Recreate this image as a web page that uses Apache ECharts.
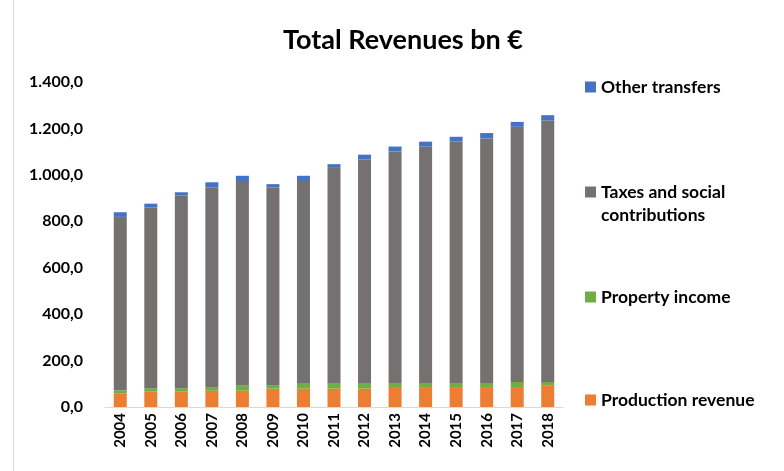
<!DOCTYPE html>
<html>
<head>
<meta charset="utf-8">
<script src="https://cdn.jsdelivr.net/npm/echarts@6/dist/echarts.min.js"></script>
<style>
  html, body { margin: 0; padding: 0; background: #fff; }
  #main { width: 784px; height: 471px; }
</style>
</head>
<body>
<div id="main"></div>
<script>
var years = ['2004', '2005', '2006', '2007', '2008', '2009', '2010', '2011', '2012', '2013', '2014', '2015', '2016', '2017', '2018'];
var production = [59, 66, 66, 70, 70, 79, 79, 79, 79, 86, 86, 86, 86, 86, 94];
var property = [13, 15, 15, 16, 24, 15, 21, 21, 21, 14, 14, 14, 14, 22, 14];
var taxes = [747, 780, 830, 861, 879, 853, 873, 930, 966, 1000, 1022, 1043, 1056, 1099, 1126];
var transfers = [20, 15, 14, 21, 23, 13, 23, 16, 21, 22, 21, 21, 24, 21, 23];
var yTicks = [0, 200, 400, 600, 800, 1000, 1200, 1400];

var font = 'Lato, "Open Sans", sans-serif';
var legendFont = 17.5;

// 1.400,0 style
function deNum(v) {
    var s = Math.round(v).toString().replace(/\B(?=(\d{3})+(?!\d))/g, '.');
    return s + ',0';
}

function legendBox(name, top, label) {
    return {
        data: [name],
        left: 585,
        top: top,
        padding: 0,
        orient: 'vertical',
        icon: 'rect',
        itemWidth: 11,
        itemHeight: 11,
        selectedMode: false,
        formatter: label ? function () { return label; } : '{name}',
        textStyle: {
            fontFamily: font,
            fontWeight: 'bold',
            fontSize: legendFont,
            color: '#000',
            lineHeight: 22
        }
    };
}

var option = {
    animation: false,
    backgroundColor: '#fff',
    title: {
        text: 'Total Revenues bn €',
        left: 398,
        textAlign: 'center',
        top: 22,
        textStyle: {
            fontFamily: font,
            fontWeight: 'bold',
            fontSize: 27,
            color: '#000'
        }
    },
    graphic: [{
        type: 'line',
        shape: { x1: 13.5, y1: 0, x2: 13.5, y2: 471 },
        style: { stroke: '#d9d9d9', lineWidth: 1 }
    }, {
        type: 'text',
        left: 601,
        top: 204,
        style: {
            text: 'contributions',
            fontFamily: font,
            fontWeight: 'bold',
            fontSize: legendFont,
            lineHeight: 22,
            fill: '#000'
        }
    }],
    legend: [
        legendBox('Other transfers', 76),
        legendBox('Taxes and social contributions', 181, 'Taxes and social'),
        legendBox('Property income', 286),
        legendBox('Production revenue', 389)
    ],
    grid: {
        left: 105,
        right: 221,
        top: 82,
        bottom: 64
    },
    xAxis: {
        type: 'category',
        data: years,
        axisLine: { lineStyle: { color: '#d9d9d9' } },
        axisTick: { show: false },
        axisLabel: {
            rotate: 90,
            margin: 6,
            fontFamily: font,
            fontWeight: 'bold',
            fontSize: 15,
            color: '#000'
        }
    },
    yAxis: {
        type: 'value',
        min: yTicks[0],
        max: yTicks[yTicks.length - 1],
        interval: 200,
        splitLine: { show: false },
        axisLine: { show: false },
        axisTick: { show: false },
        axisLabel: {
            margin: 22,
            fontFamily: font,
            fontWeight: 'bold',
            fontSize: 16,
            color: '#000',
            formatter: deNum
        }
    },
    series: [{
        name: 'Production revenue',
        type: 'bar',
        stack: 'rev',
        barWidth: 13,
        itemStyle: { color: '#ed7d31' },
        data: production
    }, {
        name: 'Property income',
        type: 'bar',
        stack: 'rev',
        itemStyle: { color: '#70ad47' },
        data: property
    }, {
        name: 'Taxes and social contributions',
        type: 'bar',
        stack: 'rev',
        itemStyle: { color: '#767171' },
        data: taxes
    }, {
        name: 'Other transfers',
        type: 'bar',
        stack: 'rev',
        itemStyle: { color: '#4472c4' },
        data: transfers
    }]
};

var chart = echarts.init(document.getElementById('main'));
chart.setOption(option);
</script>
</body>
</html>
